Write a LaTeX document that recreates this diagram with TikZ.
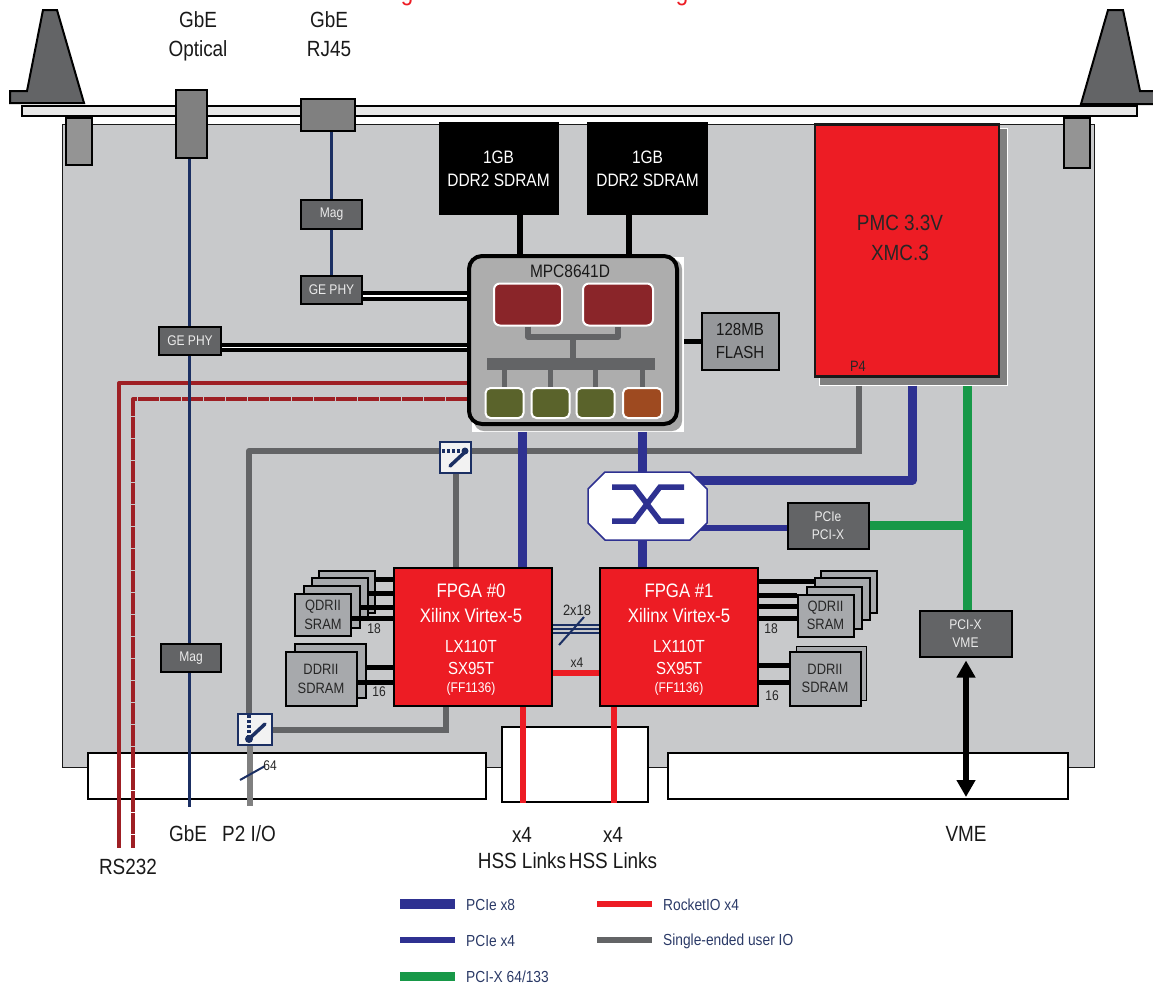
\documentclass[tikz,border=0pt]{standalone}
\usepackage{fontspec}
\setmainfont[FakeStretch=0.86]{Liberation Sans}
\usetikzlibrary{arrows.meta}
\definecolor{boardgray}{HTML}{C8C9CB}
\definecolor{chipgray}{HTML}{636466}
\definecolor{ramgray}{HTML}{A7A9AC}
\definecolor{fpgared}{HTML}{ED1C24}
\definecolor{corered}{HTML}{8A2529}
\definecolor{portgreen}{HTML}{5A632B}
\definecolor{portbrown}{HTML}{9E4A20}
\definecolor{uartred}{HTML}{9E1F24}
\definecolor{pcieblue}{HTML}{2E3191}
\definecolor{gbenavy}{HTML}{1B2F63}
\definecolor{pcixgreen}{HTML}{179848}
\definecolor{legtext}{HTML}{2B3A67}
\newcommand{\fsz}[2]{\fontsize{#1}{#2}\selectfont}
\tikzset{
  box/.style={draw=black,line width=2pt,inner sep=0pt,align=center},
  darkbox/.style={box,fill=chipgray,text=white!92!black,font=\fsz{14}{18}},
  rambox/.style={box,fill=ramgray,text=black!85,font=\fsz{15}{18.5}},
  ddrbox/.style={box,fill=black,text=white,font=\fsz{18}{23}},
  fpgabox/.style={box,line width=2.5pt,fill=fpgared,minimum width=158pt,minimum height=138pt},
  fpganame/.style={inner sep=0pt,text=white,align=center,font=\fsz{19.5}{25}},
  fpgapart/.style={inner sep=0pt,text=white,align=center,font=\fsz{17.5}{22}},
  fpgapack/.style={inner sep=0pt,text=white,font=\fsz{14}{16}},
  corebox/.style={draw=white,line width=2pt,fill=corered,rounded corners=6pt,minimum width=68pt,minimum height=42pt},
  portbox/.style={draw=white,line width=2pt,rounded corners=5pt,minimum width=38pt,minimum height=30pt},
  switchbox/.style={draw=gbenavy,line width=2pt,fill=black!5,inner sep=0pt},
  edgebox/.style={draw=black,line width=2pt,fill=white,inner sep=0pt},
  lab/.style={inner sep=0pt,align=center,text=black!90,font=\fsz{22}{26}},
  small/.style={inner sep=0pt,text=black!85,font=\fsz{14}{16}},
  leg/.style={inner sep=0pt,anchor=west,text=legtext,font=\fsz{16}{18}},
  memlink/.style={black,line width=5pt},
  gmii/.style={black,line width=4pt,double=white,double distance=1.2pt},
  gbeline/.style={gbenavy,line width=3pt},
  uart/.style={uartred,line width=4pt,line join=round},
  userio/.style={chipgray,line width=6pt},
  pciex8/.style={pcieblue,line width=9pt,line join=round},
  pciex4/.style={pcieblue,line width=6pt},
  pcix/.style={pcixgreen,line width=9pt},
  rocket/.style={fpgared,line width=6pt},
  swdots/.style={gbenavy,line width=3.5pt,dash pattern=on 3pt off 2pt},
  swarm/.style={gbenavy,line width=3.5pt,line cap=round},
}
\begin{document}
\begin{tikzpicture}[x=1pt,y=-1pt]
  \useasboundingbox (0,0) rectangle (1153,986);
  % cut off caption above the card
  \begin{scope}
    \clip (0,0) rectangle (1153,6);
    \node[text=fpgared,inner sep=0pt,font=\fsz{26}{28}] (capa) at (407,-4) {g};
    \node[text=fpgared,inner sep=0pt,font=\fsz{26}{28}] (capb) at (682,-4) {g};
  \end{scope}
  % board and front panel
  \node[draw=black!90,line width=1.5pt,fill=boardgray,minimum width=1032pt,minimum height=643pt] (board) at (578.5,446) {};
  \node[edgebox,minimum width=398pt,minimum height=46pt] (edgea) at (287,776) {};
  \node[edgebox,minimum width=146pt,minimum height=75pt] (edgeb) at (575,764.5) {};
  \node[edgebox,minimum width=400pt,minimum height=46pt] (edgec) at (868,776) {};
  \node[draw=black,line width=2pt,fill=black!9,minimum width=1115pt,minimum height=10pt] (panel) at (579.5,111) {};
  \draw[black,line width=2pt,fill=chipgray] (43,10) -- (57,10) -- (84,103) -- (10,103) -- (10,91) -- (27,91) -- cycle;
  \draw[black,line width=2pt,fill=chipgray] (1108,10) -- (1123,10) -- (1140,91) -- (1155,91) -- (1155,104) -- (1081,104) -- cycle;
  \node[box,fill=black!42,minimum width=26pt,minimum height=47pt] (blocka) at (79,141.5) {};
  \node[box,fill=black!42,minimum width=26pt,minimum height=50pt] (blockb) at (1077,143) {};
  \node[box,fill=black!50,minimum width=31pt,minimum height=68pt] (optic) at (191,124) {};
  \node[box,fill=black!50,minimum width=54pt,minimum height=32pt] (rjport) at (328,115) {};
  % network side
  \node[darkbox,minimum width=61pt,minimum height=29pt] (maga) at (331.5,214) {Mag};
  \node[darkbox,minimum width=61pt,minimum height=28pt] (phya) at (331.5,289.5) {GE PHY};
  \node[darkbox,minimum width=62pt,minimum height=28pt] (phyb) at (190,340.5) {GE PHY};
  \node[darkbox,minimum width=60pt,minimum height=28pt] (magb) at (191,658) {Mag};
  % memory and flash
  \node[ddrbox,minimum width=118pt,minimum height=91pt] (ddra) at (498.5,168.5) {1GB\\DDR2 SDRAM};
  \node[ddrbox,minimum width=119pt,minimum height=91pt] (ddrb) at (647.5,168.5) {1GB\\DDR2 SDRAM};
  \node[box,fill=ramgray!90!black,text=black!90,font=\fsz{17.5}{23},minimum width=77pt,minimum height=57pt] (flash) at (740,341) {128MB\\FLASH};
  % processor with cores and bus
  \node[fill=white,inner sep=0pt,minimum width=212pt,minimum height=175pt] (cpushadow) at (578,344.5) {};
  \node[fill=black!35,rounded corners=10pt,inner sep=0pt,minimum width=208pt,minimum height=172pt] (cpuback) at (578,345) {};
  \node[draw=black,line width=4pt,fill=black!32,rounded corners=13pt,minimum width=208pt,minimum height=168pt] (cpu) at (573,340) {};
  \node[inner sep=0pt,text=black!90,font=\fsz{18}{20}] (cpuname) at (570,271) {MPC8641D};
  \node[corebox] (corea) at (528,304.5) {};
  \node[corebox,minimum width=70pt] (coreb) at (618,304.5) {};
  \node[fill=chipgray,inner sep=0pt,minimum width=168pt,minimum height=12pt] (bus) at (570.5,364) {};
  \node[portbox,fill=portgreen] (porta) at (504.5,403) {};
  \node[portbox,fill=portgreen] (portb) at (550.5,403) {};
  \node[portbox,fill=portgreen] (portc) at (595.5,403) {};
  \node[portbox,fill=portbrown,minimum width=39pt] (portd) at (642.5,403) {};
  \draw[chipgray,line width=5.5pt,line join=round] (corea.south) |- (coreb.south |- 0,337) -- (coreb.south);
  \draw[chipgray,line width=5.5pt] (573,337) -- (bus.north -| 573,0);
  \foreach \p in {porta,portb,portc,portd} \draw[chipgray,line width=5pt] (\p.north |- bus.south) -- (\p.north);
  % mezzanine site
  \node[draw=white,line width=1pt,fill=black!50,inner sep=0pt,minimum width=188pt,minimum height=257pt] (pmcshadow) at (913,256.5) {};
  \node[box,draw=black!90,line width=2.5pt,fill=fpgared,minimum width=184pt,minimum height=252pt] (pmc) at (907,250.5) {};
  \node[inner sep=0pt,text=black!85,font=\fsz{22}{30},align=center] (pmcname) at (900,238) {PMC 3.3V\\XMC.3};
  \node[inner sep=0pt,text=black!85,font=\fsz{15}{16}] (pfour) at (858,366) {P4};
  % fpgas
  \node[fpgabox] (fpgaa) at (473,637) {};
  \node[fpgabox] (fpgab) at (679,637) {};
  \node[fpganame] (fpganamea) at (471,603) {FPGA \#0\\Xilinx Virtex-5};
  \node[fpganame] (fpganameb) at (679,603) {FPGA \#1\\Xilinx Virtex-5};
  \node[fpgapart] (fpgaparta) at (471,657) {LX110T\\SX95T};
  \node[fpgapart] (fpgapartb) at (679,657) {LX110T\\SX95T};
  \node[fpgapack] (fpgapacka) at (471,689) {(FF1136)};
  \node[fpgapack] (fpgapackb) at (679,689) {(FF1136)};
  % qdr and ddr stacks
  \node[rambox,minimum width=56pt,minimum height=42pt] (qdrad) at (347,591.5) {};
  \node[rambox,minimum width=56pt,minimum height=42pt] (qdrac) at (340,599) {};
  \node[rambox,minimum width=56pt,minimum height=42pt] (qdrab) at (332,607) {};
  \node[rambox,minimum width=56pt,minimum height=42pt] (qdraa) at (323,615) {QDRII\\SRAM};
  \node[rambox,minimum width=71pt,minimum height=54pt] (ddrab) at (330.5,670.5) {};
  \node[rambox,minimum width=71pt,minimum height=54pt] (ddraa) at (321,679) {DDRII\\SDRAM};
  \node[rambox,minimum width=56pt,minimum height=42pt] (qdrbd) at (848.5,591.5) {};
  \node[rambox,minimum width=55pt,minimum height=42pt] (qdrbc) at (842,599) {};
  \node[rambox,minimum width=55pt,minimum height=42pt] (qdrbb) at (834,607.5) {};
  \node[rambox,minimum width=56pt,minimum height=42pt] (qdrba) at (825.5,615.5) {QDRII\\SRAM};
  \node[rambox,line width=1.5pt,minimum width=70pt,minimum height=54pt] (ddrbb) at (831.5,673.5) {};
  \node[rambox,minimum width=71pt,minimum height=54pt] (ddrba) at (825,678.5) {DDRII\\SDRAM};
  % switch and bridges
  \node[inner sep=0pt,minimum width=119pt,minimum height=68pt] (plx) at (647.5,506) {};
  \node[darkbox,minimum width=81pt,minimum height=46pt] (bridge) at (828,525.5) {PCIe\\PCI-X};
  \node[darkbox,minimum width=92pt,minimum height=46pt] (vme) at (965.5,633.5) {PCI-X\\VME};
  % user io switches
  \node[switchbox,minimum width=31pt,minimum height=31pt] (swa) at (455.5,457.5) {};
  \draw[swdots] (437,451) -- (463,451);
  \draw[swarm] (465,452) -- (450,466);
  \fill[gbenavy] (465,451) circle (3.5);
  \node[switchbox,minimum width=34pt,minimum height=31pt] (swb) at (255,729.5) {};
  \draw[swdots] (249,715) -- (249,738);
  \draw[swarm] (250,738) -- (265,724);
  \fill[gbenavy] (249,739) circle (4);
  % free ends
  \coordinate (rsa) at (119,848);
  \coordinate (rsb) at (133,848);
  \coordinate (gbeout) at (189.5,807);
  \coordinate (pioout) at (250,806);
  \coordinate (vmeout) at (966,797);
  % connectors
  \draw[uart] (cpu.west |- 0,383) -| (rsa);
  \draw[uart,dash pattern=on 21pt off 1pt] (cpu.west |- 0,399) -| (rsb);
  \draw[gbeline] (optic.south -| gbeout) -- (phyb.north -| gbeout);
  \draw[gbeline] (phyb.south -| gbeout) -- (magb.north -| gbeout);
  \draw[gbeline] (magb.south -| gbeout) -- (gbeout);
  \draw[gbeline] (rjport.south -| maga.north) -- (maga.north);
  \draw[gbeline] (maga.south) -- (phya.north);
  \draw[gmii] (phya.east |- 0,296) -- (cpu.west |- 0,296);
  \draw[gmii] (phyb.east |- 0,347.5) -- (cpu.west |- 0,347.5);
  \draw[memlink,line width=6pt] (ddra.south -| 520,0) -- (cpu.north -| 520,0);
  \draw[memlink,line width=6pt] (ddrb.south -| 629,0) -- (cpu.north -| 629,0);
  \draw[memlink] (cpushadow.east |- flash.west) -- (flash.west);
  \draw[userio] (pmcshadow.south -| 859,0) |- (swa.east |- 0,451);
  \draw[userio,line join=round] (swa.west |- 0,451) -| (swb.north -| 249,0);
  \draw[userio] (swa.south) -- (fpgaa.north -| swa.south);
  \draw[userio] (swb.east) -| (fpgaa.south -| 446,0);
  \draw[userio,black!50] (swb.south -| pioout) -- (pioout);
  \draw[pciex8] (cpushadow.south -| 522.5,0) -- (fpgaa.north -| 522.5,0);
  \draw[pciex8] (cpushadow.south -| 642,0) -- (plx.north -| 642,0);
  \draw[pciex8] (plx.south -| 642,0) -- (fpgab.north -| 642,0);
  \draw[pciex8] (pmcshadow.south -| 912.5,0) |- (plx.center |- 0,480);
  \draw[pciex4] (plx.center |- 0,528) -- (bridge.west |- 0,528);
  \draw[pcix] (pmcshadow.south -| 967,0) -- (vme.north -| 967,0);
  \draw[pcix] (bridge.east) -- (bridge.east -| 967,0);
  \draw[black,line width=6pt,{Triangle[length=17pt,width=18pt]}-{Triangle[length=17pt,width=18pt]},shorten <=3pt] (vme.south -| vmeout) -- (vmeout);
  \draw[rocket] (fpgaa.south -| 523,0) -- (523,803);
  \draw[rocket] (fpgab.south -| 613.5,0) -- (613.5,803);
  \draw[fpgared,line width=5.5pt] (fpgaa.east |- 0,673) -- (fpgab.west |- 0,673);
  \foreach \y in {625,629,633} \draw[gbenavy,line width=2.5pt] (fpgaa.east |- 0,\y) -- (fpgab.west |- 0,\y);
  \draw[gbenavy,line width=2pt] (559,645) -- (584,617);
  \draw[gbenavy,line width=2pt] (240,780) -- (265,766);
  % switch outline over its links
  \draw[pcieblue,line width=1.5pt,fill=white] (605,472) -- (690,472) -- (707,489) -- (707,523) -- (690,540) -- (605,540) -- (588,523) -- (588,489) -- cycle;
  \draw[pcieblue,line width=5.5pt] (612,487) -- (634,487) -- (660,521) -- (684,521);
  \draw[pcieblue,line width=5.5pt] (612,521) -- (634,521) -- (660,487) -- (684,487);
  % memory buses
  \draw[memlink] (qdrad.east |- 0,579) -- (fpgaa.west |- 0,579);
  \draw[memlink] (qdrac.east |- 0,593) -- (fpgaa.west |- 0,593);
  \draw[memlink] (qdrab.east |- 0,607) -- (fpgaa.west |- 0,607);
  \draw[memlink] (qdraa.east |- 0,618) -- (fpgaa.west |- 0,618);
  \draw[memlink] (ddrab.east |- 0,667) -- (fpgaa.west |- 0,667);
  \draw[memlink] (ddraa.east |- 0,682) -- (fpgaa.west |- 0,682);
  \draw[memlink] (fpgab.east |- 0,581) -- (qdrbc.west |- 0,581);
  \draw[memlink] (fpgab.east |- 0,595) -- (qdrba.west |- 0,595);
  \draw[memlink] (fpgab.east |- 0,606) -- (qdrba.west |- 0,606);
  \draw[memlink] (fpgab.east |- 0,618) -- (qdrba.west |- 0,618);
  \draw[memlink] (fpgab.east |- 0,665) -- (ddrba.west |- 0,665);
  \draw[memlink] (fpgab.east |- 0,682) -- (ddrba.west |- 0,682);
  % labels
  \node[small] (nqa) at (374,629) {18};
  \node[small] (nda) at (379,692) {16};
  \node[small] (nqb) at (771,629) {18};
  \node[small] (ndb) at (772,696) {16};
  \node[small] (nsf) at (270,766) {64};
  \node[small,font=\fsz{15}{17}] (nlvds) at (577,610) {2x18};
  \node[small] (nxf) at (577,663) {x4};
  \node[lab] (lopt) at (198,36) {GbE\\[3pt]Optical};
  \node[lab] (lrj) at (329,34.5) {GbE\\[3pt]RJ45};
  \node[lab] (lgbe) at (188,834) {GbE};
  \node[lab] (lpio) at (249,834) {P2 I/O};
  \node[lab] (lrs) at (128,867) {RS232};
  \node[lab] (lhssa) at (522,848) {x4\\HSS Links};
  \node[lab] (lhssb) at (613,848) {x4\\HSS Links};
  \node[lab] (lvme) at (966,834) {VME};
  % legend
  \draw[pcieblue,line width=10pt] (400,904) -- (455,904);
  \draw[pcieblue,line width=6pt] (400,940) -- (455,940);
  \draw[pcixgreen,line width=9pt] (400,976) -- (455,976);
  \draw[fpgared,line width=6pt] (597,904) -- (652,904);
  \draw[chipgray,line width=6pt] (597,940) -- (652,940);
  \node[leg] (lega) at (466,905) {PCIe x8};
  \node[leg] (legb) at (466,941) {PCIe x4};
  \node[leg] (legc) at (466,977) {PCI-X 64/133};
  \node[leg] (legd) at (663,905) {RocketIO x4};
  \node[leg] (lege) at (663,941) {Single-ended user IO};
\end{tikzpicture}
\end{document}
